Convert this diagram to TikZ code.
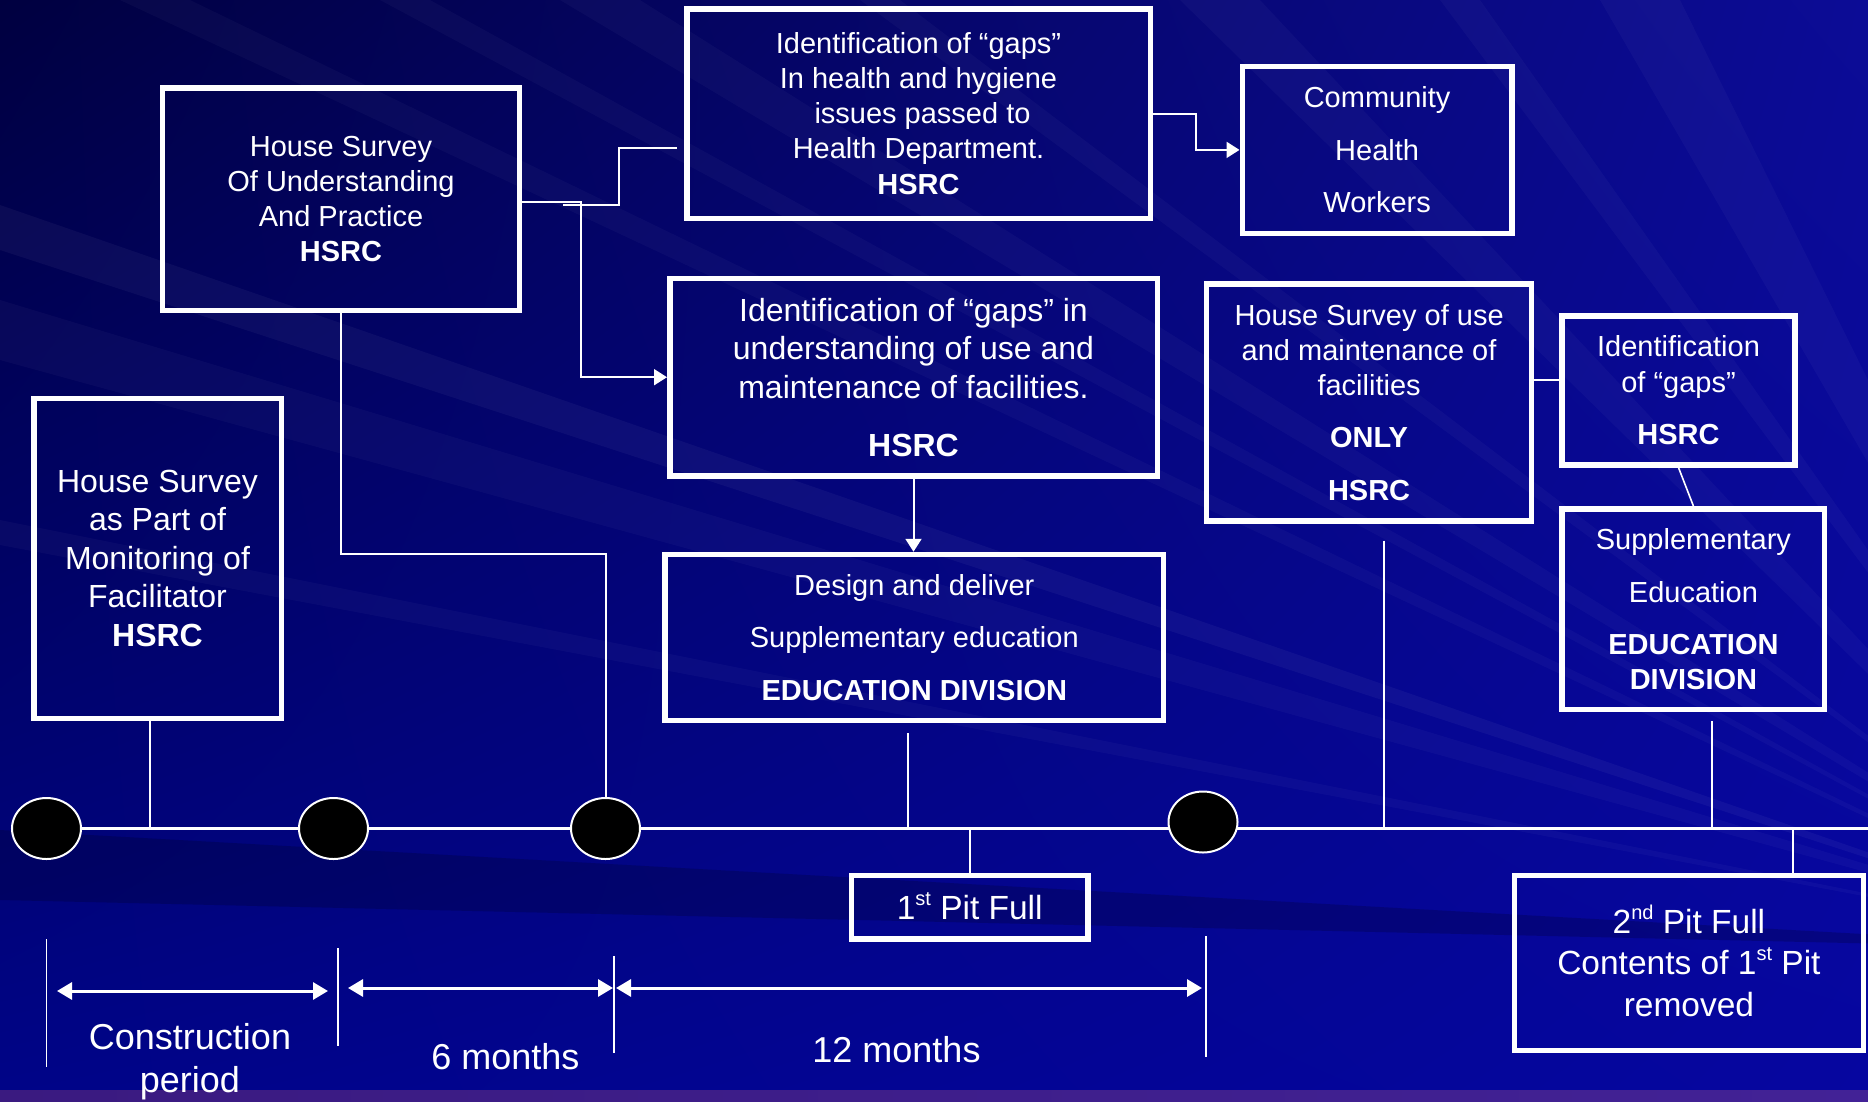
\documentclass[tikz,border=0pt]{standalone}
\usepackage{fontspec}
\setmainfont{Liberation Sans}
\usetikzlibrary{arrows.meta,calc,shapes.geometric,shadings}
\definecolor{bgUL}{RGB}{0,0,64}
\definecolor{bgUR}{RGB}{12,12,150}
\definecolor{bgLL}{RGB}{0,4,136}
\definecolor{bgLR}{RGB}{6,6,160}
\definecolor{stripA}{RGB}{58,26,128}
\definecolor{stripB}{RGB}{66,34,150}
\newcommand\mysup[1]{\smash{\raisebox{0.42em}{\fontsize{20}{20}\selectfont #1}}}
\begin{document}
\begin{tikzpicture}[x=1pt,y=-1pt,
  box/.style={draw=white,line width=5.5pt,text=white,align=center,inner sep=0pt},
  fS/.style={font=\fontsize{29}{35.1}\selectfont},
  fM/.style={font=\fontsize{32}{38.5}\selectfont},
  fL/.style={font=\fontsize{33.5}{41.3}\selectfont},
  conn/.style={draw=white,line width=2pt},
  vline/.style={draw=white,line width=1.6pt},
  arrowend/.style={-{Triangle[length=13pt,width=16pt]}},
  dimline/.style={draw=white,line width=3pt,{Triangle[length=15pt,width=17pt]}-{Triangle[length=15pt,width=17pt]}},
  dimtick/.style={draw=white,line width=1.5pt},
  tdot/.style={ellipse,draw=white,line width=2pt,fill=black,minimum width=69pt,minimum height=61pt,inner sep=0pt},
  lbl/.style={text=white,align=center,font=\fontsize{36}{43}\selectfont,inner sep=0pt},
  bgray/.style={fill=white,opacity=0.03}
]
\useasboundingbox (0,0) rectangle (1868,1101);
% background
\shade[upper left=bgUL, upper right=bgUR, lower left=bgLL, lower right=bgLR] (0,0) rectangle (1868,1101);
\begin{scope}
\clip (0,0) rectangle (1868,1101);
\coordinate (F) at (2150,950);
\foreach \a/\b in {120/190, 380/430, 560/640, 860/900, 1180/1260, 1440/1480, 1600/1680}
  \fill[bgray] (F) -- (\a,0) -- (\b,0) -- cycle;
\fill[bgray] (F) -- (0,300) -- (0,360) -- cycle;
\fill[bgray] (F) -- (0,520) -- (0,545) -- cycle;
\fill[white,opacity=0.045] (F) -- (0,205) -- (0,250) -- cycle;
\fill[black,opacity=0.18] (F) -- (0,830) -- (0,900) -- cycle;
\end{scope}
\shade[left color=stripA,right color=stripB] (0,1090) rectangle (1868,1101);

% boxes
\node[box,fS,minimum width=463.5pt,minimum height=209.5pt] (gapA) at (918.5,113.5)
  {Identification of “gaps”\\In health and hygiene\\\hspace*{8pt}issues passed to\\Health Department.\\\textbf{HSRC}};
\node[box,fS,minimum width=269.7pt,minimum height=166.7pt] (chw) at (1377.1,149.9)
  {Community\\[17.5pt]Health\\[17.5pt]Workers};
\node[box,fS,minimum width=357.2pt,minimum height=222.5pt] (hsA) at (341,199.2)
  {House Survey\\Of Understanding\\And Practice\\\textbf{HSRC}};
\node[box,fM,minimum width=487.5pt,minimum height=197.6pt] (gapB) at (913.5,377.2)
  {Identification of “gaps” in\\understanding of use and\\maintenance of facilities.\\[19.5pt]\textbf{HSRC}};
\node[box,fS,minimum width=325.1pt,minimum height=236.9pt] (hsB) at (1369.1,402.5)
  {House Survey of use\\and maintenance of\\facilities\\[17.5pt]\textbf{ONLY}\\[17.5pt]\textbf{HSRC}};
\node[box,fS,minimum width=232.7pt,minimum height=148.9pt] (gapC) at (1678.5,390.4)
  {Identification\\of “gaps”\\[17.5pt]\textbf{HSRC}};
\node[box,fM,minimum width=247.5pt,minimum height=320.1pt] (hsC) at (157.5,558.4)
  {House Survey\\as Part of\\Monitoring of\\Facilitator\\\textbf{HSRC}};
\node[box,fS,minimum width=498.5pt,minimum height=166pt] (edu) at (914.3,637.5)
  {Design and deliver\\[17.5pt]Supplementary education\\[17.5pt]\textbf{EDUCATION DIVISION}};
\node[box,fS,minimum width=262.5pt,minimum height=200.9pt] (sup) at (1693.4,609.2)
  {Supplementary\\[17.5pt]Education\\[17.5pt]\textbf{EDUCATION}\\\textbf{DIVISION}};
\node[box,fL,minimum width=236.4pt,minimum height=63.6pt] (pitA) at (969.7,907.3)
  {1\mysup{st} Pit Full};
\node[box,fL,minimum width=348.8pt,minimum height=175.1pt] (pitB) at (1688.9,963)
  {2\mysup{nd} Pit Full\\Contents of 1\mysup{st} Pit\\removed};

% timeline
\coordinate (t0) at (46.5,828.5);
\coordinate (t1) at (1868,828.5);
\draw[draw=white,line width=2.2pt] (t0) -- (t1);
\node[tdot] (d1) at (46.5,828.5) {};
\node[tdot] (d2) at (333.5,828.5) {};
\node[tdot] (d3) at (605.5,828.5) {};
\node[tdot] (d4) at (1203,822) {};

% connectors between boxes
\draw[conn,arrowend] ($(hsA.east)+(0,2.5)$) -- ++(59,0) |- (gapB.west);
\draw[conn] ($(hsA.east)+(41,5.3)$) -- ++(56,0) |- ($(gapA.west)+(-7,34.5)$);
\draw[conn,arrowend] (gapA.east) -- ++(43,0) |- (chw.west);
\draw[conn,arrowend] (gapB.south) -- (gapB.south |- edu.north);
\draw[conn] (hsA.south) -- ++(0,240.3) -| (d3.north);
\draw[conn] ($(hsB.east)+(0,-23)$) -- ($(gapC.west)+(0,-10.9)$);
\draw[vline] (gapC.south) -- (sup.north);

% drops to the timeline
\coordinate (s1) at ($(hsC.south)+(-7.5,-4)$);
\coordinate (s2) at ($(edu.south)+(-6.3,10)$);
\coordinate (s3) at ($(hsB.south)+(15,17)$);
\coordinate (s4) at ($(sup.south)+(18.6,9)$);
\coordinate (s5) at ($(pitB.north)+(104,0)$);
\draw[vline] (s1) -- (s1 |- t0);
\draw[vline] (s2) -- (s2 |- t0);
\draw[vline] (s3) -- (s3 |- t0);
\draw[vline] (s4) -- (s4 |- t0);
\draw[vline] (s5) -- (s5 |- t0);
\draw[vline] (pitA.north) -- (pitA.north |- t0);

% durations
\coordinate (k1a) at (46.5,939);  \coordinate (k1b) at (46.5,1067);
\coordinate (k2a) at (338,948);   \coordinate (k2b) at (338,1046);
\coordinate (k3a) at (614,956);   \coordinate (k3b) at (614,1053);
\coordinate (k4a) at (1206,936);  \coordinate (k4b) at (1206,1057);
\draw[dimtick] (k1a) -- (k1b);
\draw[dimtick] (k2a) -- (k2b);
\draw[dimtick] (k3a) -- (k3b);
\draw[dimtick] (k4a) -- (k4b);
\coordinate (r1a) at (57,991);  \coordinate (r1b) at (328,991);
\coordinate (r2a) at (348,988); \coordinate (r2b) at (613,988);
\coordinate (r3a) at (616,988); \coordinate (r3b) at (1202,988);
\draw[dimline] (r1a) -- (r1b);
\draw[dimline] (r2a) -- (r2b);
\draw[dimline] (r3a) -- (r3b);
\node[lbl] (lc) at (190,1062) {Construction\\period};
\node[lbl,anchor=base] (l6) at (505.4,1069) {6 months};
\node[lbl,anchor=base] (l12) at (896.5,1062) {12 months};
\end{tikzpicture}
\end{document}
